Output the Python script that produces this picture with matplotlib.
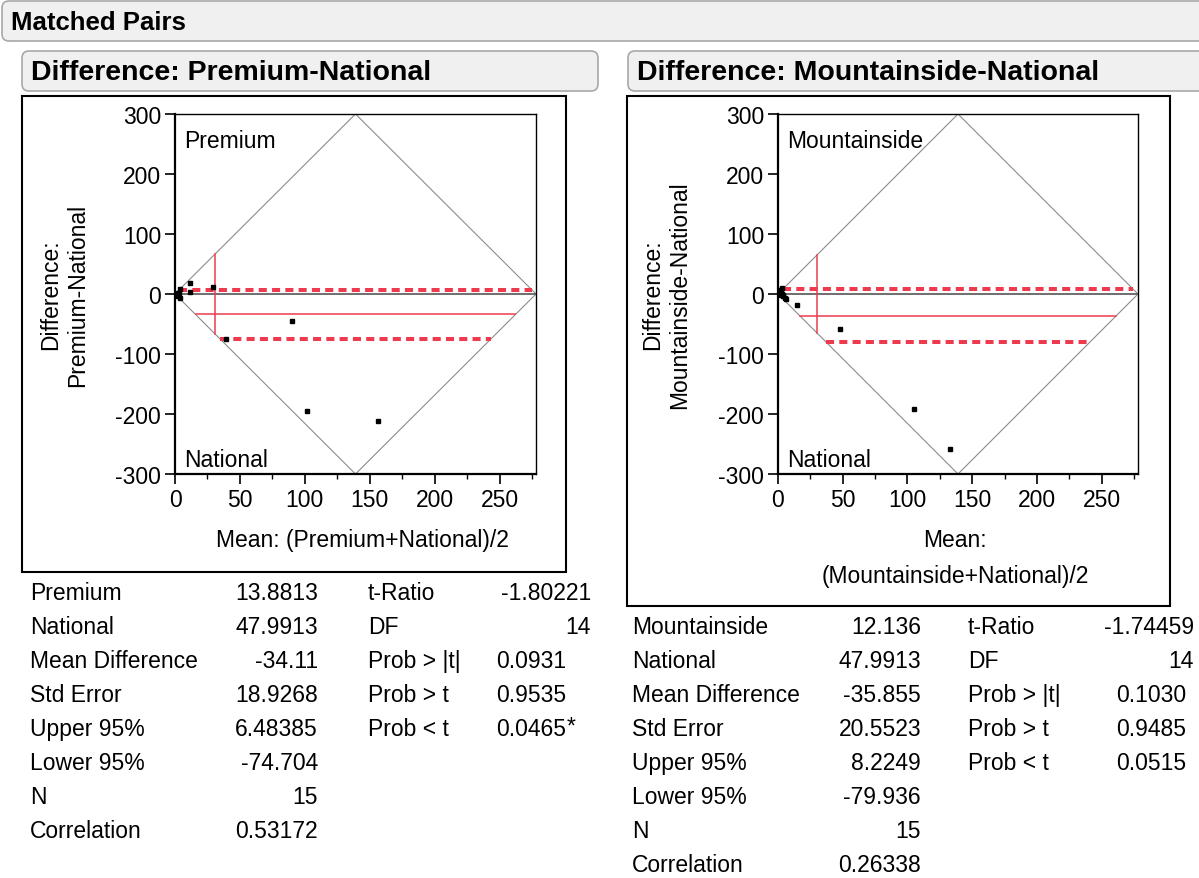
import matplotlib
matplotlib.use("Agg")
import matplotlib.pyplot as plt
from matplotlib.patches import FancyBboxPatch, Rectangle
from matplotlib.ticker import MultipleLocator

plt.rcParams['font.family'] = ['Liberation Sans', 'DejaVu Sans']
plt.rcParams['axes.unicode_minus'] = False

W, H = 1199, 879

# --- data ---
prem_mean = [11.5, 29, 3.8, 3.8, 11.5, 90, 39, 102, 156, 1.5, 2.0, 1.0, 2.5, 0.8, 3.0]
prem_diff = [18, 11.7, 8, -6.7, 3, -45.5, -75, -195, -212, -2, 1, 0, -3, -1.5, 2]
mtn_mean = [14.4, 48.2, 105, 132.8, 2.8, 5.4, 1.5, 3.5, 2.0, 4.0, 1.0, 3.0, 2.5, 6.0, 1.8]
mtn_diff = [-19, -58, -192, -259, 10, -6.7, 3, -2, 5, -4, 1, 0, -1, -8, 6]

diamond_mean = [0, 139, 278, 139, 0]
diamond_diff = [0, 300, 0, -300, 0]

xticks = [0, 50, 100, 150, 200, 250]
yticks = [-300, -200, -100, 0, 100, 200, 300]

stat_labels_prem = ["Premium", "National", "Mean Difference", "Std Error",
                    "Upper 95%", "Lower 95%", "N", "Correlation"]
stat_values_prem = ["13.8813", "47.9913", "-34.11", "18.9268",
                    "6.48385", "-74.704", "15", "0.53172"]
stat_labels_mtn = ["Mountainside", "National", "Mean Difference", "Std Error",
                   "Upper 95%", "Lower 95%", "N", "Correlation"]
stat_values_mtn = ["12.136", "47.9913", "-35.855", "20.5523",
                   "8.2249", "-79.936", "15", "0.26338"]

test_labels = ["t-Ratio", "DF", "Prob > |t|", "Prob > t", "Prob < t"]
test_values_prem = ["-1.80221", "14", "0.0931", "0.9535", "0.0465"]
test_values_mtn = ["-1.74459", "14", "0.1030", "0.9485", "0.0515"]

RED = '#ee3a4e'
FS = 16.5

fig = plt.figure(figsize=(W / 100, H / 100), dpi=100)
fig.patch.set_facecolor('white')

# overlay in pixel units for boxes and text
ov = fig.add_axes([0, 0, 1, 1])
ov.set_xlim(0, W)
ov.set_ylim(H, 0)
ov.axis('off')
ov.patch.set_alpha(0)


def header(x0, y0, x1, y1, text, size):
    box = FancyBboxPatch((x0, y0), x1 - x0, y1 - y0,
                         boxstyle="round,pad=0,rounding_size=7",
                         fc='#f0f0f0', ec='#a8a8a8', lw=1.2)
    ov.add_patch(box)
    ov.text(x0 + 9, (y0 + y1) / 2 + 1, text, fontsize=size, fontweight='bold',
            va='center', ha='left')


header(2, 2, 1210, 42, "Matched Pairs", 18.5)
header(22, 52, 598, 92, "Difference: Premium-National", 20.5)
header(628, 52, 1210, 92, "Difference: Mountainside-National", 20.5)

# outer frames around plots
ov.add_patch(Rectangle((22, 97), 544, 476, fill=False, ec='black', lw=1.5))
ov.add_patch(Rectangle((627, 97), 543, 510, fill=False, ec='black', lw=1.5))


def px_axes(left, top, right, bottom):
    return fig.add_axes([left / W, 1 - bottom / H, (right - left) / W, (bottom - top) / H])


def panel(ax, means, diffs, mean_x, mean_d, upper, lower, top_lab, bot_lab):
    xa = diamond_mean[1]
    ytop = diamond_diff[1]
    ax.plot(diamond_mean, diamond_diff, color='#8c8c8c', lw=0.8, zorder=1)
    ax.plot([diamond_mean[0], diamond_mean[2]], [0, 0], color='#6e6e6e', lw=1.4, zorder=1)

    def hline(y, **kw):
        x0 = abs(y) * xa / ytop
        ax.plot([x0, 2 * xa - x0], [y, y], color=RED, **kw)

    hline(mean_d, lw=1.1, zorder=2)
    hline(upper, lw=2.9, ls=(0, (2.0, 1.3)), dash_capstyle='butt', zorder=2)
    hline(lower, lw=2.9, ls=(0, (2.0, 1.3)), dash_capstyle='butt', zorder=2)
    yv = mean_x * ytop / xa
    ax.plot([mean_x, mean_x], [-yv, yv], color=RED, lw=1.1, zorder=2)

    ax.plot(means, diffs, ls='none', marker='s', ms=2.8, color='black', zorder=3)

    ax.set_xlim(0, diamond_mean[2])
    ax.set_ylim(-300, 300)
    ax.set_xticks(xticks)
    ax.xaxis.set_minor_locator(MultipleLocator(25))
    ax.set_yticks(yticks)
    ax.tick_params(axis='both', which='major', direction='out', length=7, width=1.2,
                   labelsize=FS, pad=3)
    ax.tick_params(axis='x', which='minor', direction='out', length=3.5, width=1)
    for s in ax.spines.values():
        s.set_linewidth(1.0)
    ax.spines['left'].set_linewidth(1.6)
    ax.spines['bottom'].set_linewidth(1.6)
    ax.text(0.025, 0.925, top_lab, transform=ax.transAxes, fontsize=FS, va='center')
    ax.text(0.025, 0.04, bot_lab, transform=ax.transAxes, fontsize=FS, va='center')


axL = px_axes(175, 115, 536, 475)
panel(axL, prem_mean, prem_diff,
      (float(stat_values_prem[0]) + float(stat_values_prem[1])) / 2,
      float(stat_values_prem[2]), float(stat_values_prem[4]), float(stat_values_prem[5]),
      "Premium", "National")

axR = px_axes(778, 115, 1138, 475)
panel(axR, mtn_mean, mtn_diff,
      (float(stat_values_mtn[0]) + float(stat_values_mtn[1])) / 2,
      float(stat_values_mtn[2]), float(stat_values_mtn[4]), float(stat_values_mtn[5]),
      "Mountainside", "National")

# axis titles
ov.text(64, 295, "Difference:\nPremium-National", rotation=90, fontsize=FS,
        ha='center', va='center', multialignment='center', linespacing=1.2)
ov.text(666, 295, "Difference:\nMountainside-National", rotation=90, fontsize=FS,
        ha='center', va='center', multialignment='center', linespacing=1.2)
ov.text(362, 541, "Mean: (Premium+National)/2", fontsize=FS, ha='center', va='center')
ov.text(955, 541, "Mean:", fontsize=FS, ha='center', va='center')
ov.text(955, 577, "(Mountainside+National)/2", fontsize=FS, ha='center', va='center')


def table(x_lab, x_val, x_tlab, x_tval, x_pval, y0, labels, values, tvalues, star_idx=None):
    step = 34
    for i, (lab, val) in enumerate(zip(labels, values)):
        y = y0 + i * step
        ov.text(x_lab, y, lab, fontsize=FS, ha='left', va='center')
        ov.text(x_val, y, val, fontsize=FS, ha='right', va='center')
    for i, (lab, val) in enumerate(zip(test_labels, tvalues)):
        y = y0 + i * step
        ov.text(x_tlab, y, lab, fontsize=FS, ha='left', va='center')
        xr = x_tval if i < 2 else x_pval
        ov.text(xr, y, val, fontsize=FS, ha='right', va='center')
        if star_idx is not None and i == star_idx:
            ov.text(xr + 1, y - 3, "*", fontsize=FS, ha='left', va='center')


table(30, 318, 368, 591, 566, 594, stat_labels_prem, stat_values_prem, test_values_prem, star_idx=4)
table(632, 921, 968, 1194, 1186, 628, stat_labels_mtn, stat_values_mtn, test_values_mtn)

fig.savefig("out.png", dpi=100, facecolor='white')
